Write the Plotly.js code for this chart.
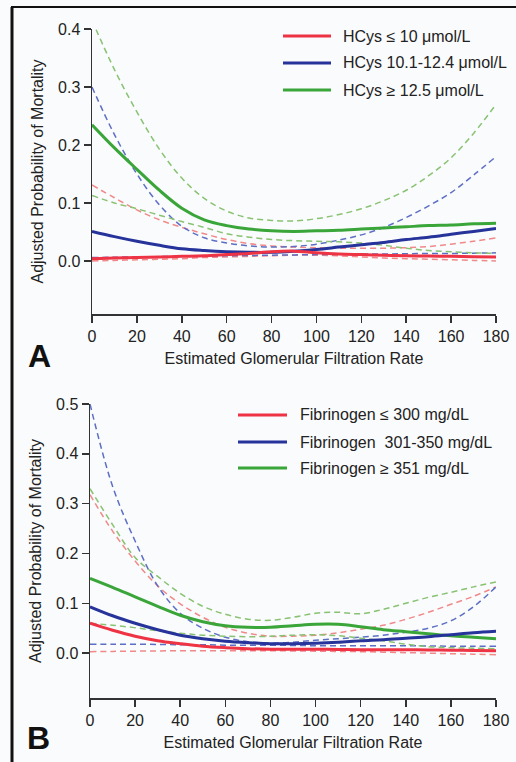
<!DOCTYPE html>
<html>
<head>
<meta charset="utf-8">
<script src="https://cdn.plot.ly/plotly-3.0.1.min.js"></script>
<style>
  html, body { margin: 0; padding: 0; background: #fafbfc; }
  #chart { width: 516px; height: 762px; }
</style>
</head>
<body>
<div id="chart"></div>
<script>
// ---------- DATA ----------
const xs = [0,10,20,30,40,50,60,70,80,90,100,110,120,130,140,150,160,170,180];
const xTicks = [0,20,40,60,80,100,120,140,160,180];
const yTicksA = [0.0,0.1,0.2,0.3,0.4];
const yTicksB = [0.0,0.1,0.2,0.3,0.4,0.5];
const xTitle = "Estimated Glomerular Filtration Rate";
const yTitle = "Adjusted Probability of Mortality";

// Panel A: homocysteine groups
const labelsA = ["HCys \u2264 10 \u03bcmol/L", "HCys 10.1-12.4 \u03bcmol/L", "HCys \u2265 12.5 \u03bcmol/L"];
const aRed      = [0.004,0.005,0.006,0.007,0.008,0.009,0.011,0.013,0.016,0.017,0.014,0.012,0.011,0.010,0.009,0.0085,0.008,0.0075,0.007];
const aRedHi    = [0.131,0.109,0.088,0.071,0.058,0.047,0.037,0.030,0.026,0.024,0.023,0.022,0.022,0.022,0.023,0.025,0.029,0.034,0.040];
const aRedLo    = [0.000,0.001,0.002,0.003,0.004,0.006,0.007,0.008,0.009,0.010,0.010,0.009,0.007,0.005,0.004,0.003,0.002,0.001,0.000];
const aBlue     = [0.051,0.042,0.034,0.027,0.021,0.018,0.016,0.015,0.015,0.017,0.020,0.024,0.028,0.032,0.037,0.041,0.046,0.051,0.056];
const aBlueHi   = [0.300,0.218,0.150,0.097,0.060,0.040,0.031,0.026,0.024,0.025,0.029,0.036,0.045,0.058,0.075,0.095,0.118,0.148,0.180];
const aBlueLo   = [0.006,0.0065,0.007,0.0075,0.008,0.0085,0.009,0.0095,0.010,0.0105,0.011,0.0115,0.012,0.012,0.0125,0.013,0.013,0.0135,0.014];
const aGreen    = [0.235,0.195,0.158,0.122,0.091,0.071,0.061,0.055,0.052,0.051,0.052,0.053,0.055,0.057,0.059,0.061,0.062,0.064,0.065];
const aGreenHi  = [0.415,0.330,0.257,0.193,0.143,0.108,0.086,0.074,0.070,0.069,0.073,0.080,0.090,0.104,0.122,0.147,0.178,0.220,0.270];
const aGreenLo  = [0.113,0.100,0.090,0.079,0.068,0.058,0.047,0.041,0.037,0.035,0.034,0.033,0.031,0.027,0.022,0.018,0.016,0.014,0.013];

// Panel B: fibrinogen groups
const labelsB = ["Fibrinogen \u2264 300 mg/dL", "Fibrinogen \u00a0301-350 mg/dL", "Fibrinogen \u2265 351 mg/dL"];
const bRed      = [0.060,0.046,0.034,0.025,0.019,0.014,0.011,0.009,0.008,0.008,0.008,0.0075,0.007,0.007,0.007,0.0065,0.006,0.0055,0.005];
const bRedHi    = [0.318,0.245,0.185,0.135,0.099,0.072,0.052,0.040,0.034,0.034,0.036,0.041,0.048,0.056,0.068,0.082,0.098,0.114,0.133];
const bRedLo    = [0.003,0.0035,0.004,0.0045,0.005,0.005,0.005,0.005,0.005,0.0045,0.004,0.0035,0.003,0.002,0.001,0.000,-0.001,-0.002,-0.003];
const bBlue     = [0.093,0.075,0.060,0.047,0.036,0.029,0.024,0.021,0.019,0.019,0.020,0.022,0.025,0.027,0.030,0.033,0.037,0.041,0.044];
const bBlueHi   = [0.500,0.335,0.225,0.135,0.080,0.050,0.032,0.023,0.020,0.022,0.026,0.029,0.032,0.036,0.042,0.050,0.065,0.093,0.133];
const bBlueLo   = [0.018,0.018,0.018,0.0175,0.017,0.017,0.016,0.016,0.016,0.0155,0.015,0.015,0.015,0.015,0.015,0.0145,0.014,0.014,0.014];
const bGreen    = [0.150,0.132,0.113,0.094,0.076,0.063,0.055,0.052,0.052,0.055,0.058,0.058,0.053,0.047,0.043,0.039,0.035,0.032,0.029];
const bGreenHi  = [0.330,0.258,0.192,0.154,0.120,0.094,0.078,0.068,0.066,0.072,0.080,0.082,0.079,0.088,0.100,0.112,0.122,0.133,0.143];
const bGreenLo  = [0.060,0.056,0.051,0.045,0.040,0.036,0.034,0.033,0.034,0.036,0.037,0.035,0.030,0.025,0.018,0.013,0.011,0.010,0.009];

// ---------- STYLE ----------
const W = 516, H = 762;
const FONT = 'Liberation Sans, Arial, Helvetica, sans-serif';
const cRed = '#ee3344', cBlue = '#26339a', cGreen = '#3aa63a';
const dRed = '#f08a8a', dBlue = '#5d6fc4', dGreen = '#88c272';
const DASH = '6px,4px';

function px(x){ return x / W; }
function py(y){ return 1 - y / H; }

function solid(y, color, xa, ya){
  return {x: xs, y: y, xaxis: xa, yaxis: ya, type: 'scatter', mode: 'lines',
          line: {color: color, width: 3, shape: 'spline', smoothing: 1},
          showlegend: false, hoverinfo: 'skip'};
}
function dashed(y, color, xa, ya){
  return {x: xs, y: y, xaxis: xa, yaxis: ya, type: 'scatter', mode: 'lines',
          line: {color: color, width: 1.5, dash: DASH, shape: 'spline', smoothing: 1},
          showlegend: false, hoverinfo: 'skip'};
}

const data = [
  dashed(aRedHi, dRed, 'x', 'y'), dashed(aRedLo, dRed, 'x', 'y'),
  dashed(aBlueHi, dBlue, 'x', 'y'), dashed(aBlueLo, dBlue, 'x', 'y'),
  dashed(aGreenHi, dGreen, 'x', 'y'), dashed(aGreenLo, dGreen, 'x', 'y'),
  solid(aGreen, cGreen, 'x', 'y'), solid(aBlue, cBlue, 'x', 'y'), solid(aRed, cRed, 'x', 'y'),
  dashed(bRedHi, dRed, 'x2', 'y2'), dashed(bRedLo, dRed, 'x2', 'y2'),
  dashed(bBlueHi, dBlue, 'x2', 'y2'), dashed(bBlueLo, dBlue, 'x2', 'y2'),
  dashed(bGreenHi, dGreen, 'x2', 'y2'), dashed(bGreenLo, dGreen, 'x2', 'y2'),
  solid(bGreen, cGreen, 'x2', 'y2'), solid(bBlue, cBlue, 'x2', 'y2'), solid(bRed, cRed, 'x2', 'y2')
];

function xaxisDef(domain, anchor){
  return {domain: domain, anchor: anchor, range: [0, 180], tickvals: xTicks,
          ticks: 'outside', ticklen: 7, tickwidth: 1.5, tickcolor: '#333',
          showline: true, linecolor: '#333', linewidth: 1.5, showgrid: false, zeroline: false,
          tickfont: {family: FONT, size: 16, color: '#222'},
          title: {text: xTitle, font: {family: FONT, size: 16, color: '#222'}, standoff: 9}};
}
function yaxisDef(domain, anchor, range, ticks){
  return {domain: domain, anchor: anchor, range: range, tickvals: ticks,
          ticktext: ticks.map(v => v.toFixed(1)),
          ticks: 'outside', ticklen: 7, tickwidth: 1.5, tickcolor: '#333',
          showline: true, linecolor: '#333', linewidth: 1.5, showgrid: false, zeroline: false,
          tickfont: {family: FONT, size: 16, color: '#222'},
          title: {text: yTitle, font: {family: FONT, size: 16, color: '#222'}, standoff: 10}};
}

const shapes = [
  // frame
  {type: 'line', xref: 'paper', yref: 'paper', x0: px(11), x1: 1, y0: py(7), y1: py(7), line: {color: '#111', width: 2}},
  {type: 'line', xref: 'paper', yref: 'paper', x0: px(12), x1: px(12), y0: py(7), y1: 0, line: {color: '#111', width: 3}}
];
const annotations = [
  {text: 'A', xref: 'paper', yref: 'paper', x: px(39), y: py(356), showarrow: false, xanchor: 'center', yanchor: 'middle',
   font: {family: FONT, size: 32, color: '#111', weight: 'bold'}},
  {text: 'B', xref: 'paper', yref: 'paper', x: px(38), y: py(738), showarrow: false, xanchor: 'center', yanchor: 'middle',
   font: {family: FONT, size: 32, color: '#111', weight: 'bold'}}
];

// legends (drawn as paper-space keys)
function addLegend(labels, colors, lineX0, lineX1, textX, rows){
  labels.forEach((lab, i) => {
    shapes.push({type: 'line', xref: 'paper', yref: 'paper', x0: px(lineX0), x1: px(lineX1),
                 y0: py(rows[i]), y1: py(rows[i]), line: {color: colors[i], width: 3}});
    annotations.push({text: lab, xref: 'paper', yref: 'paper', x: px(textX), y: py(rows[i]),
                      showarrow: false, xanchor: 'left', yanchor: 'middle',
                      font: {family: FONT, size: 16, color: '#222'}});
  });
}
addLegend(labelsA, [cRed, cBlue, cGreen], 283, 331, 341, [36, 63, 90]);
addLegend(labelsB, [cRed, cBlue, cGreen], 238, 287, 298, [415, 442, 468]);

const layout = {
  width: W, height: H,
  margin: {l: 0, r: 0, t: 0, b: 0},
  paper_bgcolor: '#fafbfc', plot_bgcolor: '#fafbfc',
  showlegend: false,
  xaxis: xaxisDef([px(92), px(496)], 'y'),
  yaxis: yaxisDef([py(314), py(29)], 'x', [-0.0914, 0.4], yTicksA),
  xaxis2: xaxisDef([px(90), px(496)], 'y2'),
  yaxis2: yaxisDef([py(698), py(404)], 'x2', [-0.09, 0.5], yTicksB),
  shapes: shapes,
  annotations: annotations
};

Plotly.newPlot('chart', data, layout, {displayModeBar: false, staticPlot: true});
</script>
</body>
</html>
